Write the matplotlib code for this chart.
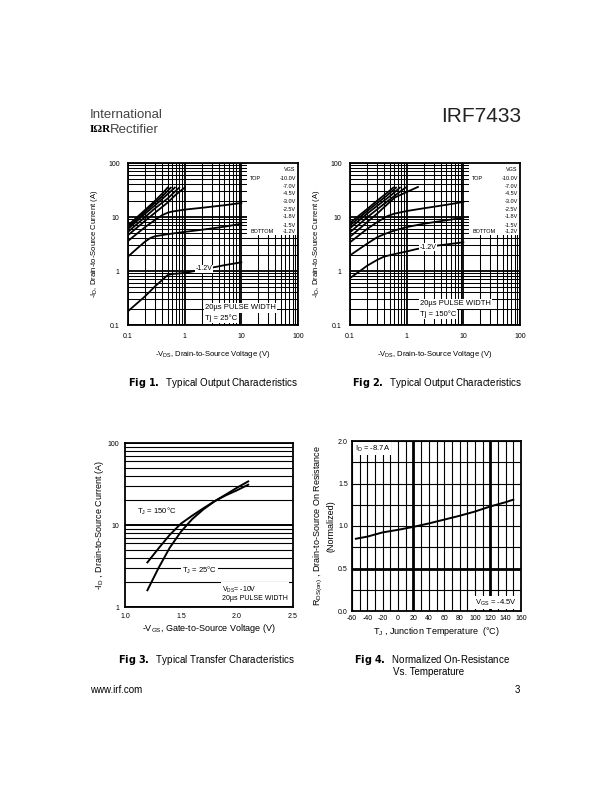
import numpy as np
import matplotlib
matplotlib.use('Agg')
import matplotlib.pyplot as plt
from matplotlib.patches import Rectangle

plt.rcParams['font.family'] = ['Liberation Sans', 'DejaVu Sans']
plt.rcParams['mathtext.default'] = 'regular'
plt.rcParams['axes.unicode_minus'] = False

# ---- Fig 1 / Fig 2 : output characteristics (VDS, ID) per VGS ----
vgs_labels = ['-10.0V', '-7.0V', '-4.5V', '-3.0V', '-2.5V', '-1.8V', '-1.5V', '-1.2V']

f1_vds = [
    [0.1, 0.2, 0.3, 0.4, 0.5],
    [0.1, 0.2, 0.3, 0.4, 0.57],
    [0.1, 0.2, 0.3, 0.45, 0.67],
    [0.1, 0.2, 0.3, 0.5, 0.8],
    [0.1, 0.2, 0.3, 0.5, 0.7, 1.0],
    [0.1, 0.2, 0.3, 0.4, 0.5, 0.6, 1.0, 2.0, 5.0, 10.0],
    [0.1, 0.15, 0.2, 0.25, 0.3, 0.5, 1.0, 2.0, 5.0, 10.0],
    [0.1, 0.2, 0.3, 0.4, 0.5, 0.6, 1.0, 1.5, 3.0, 5.0, 10.0],
]
f1_id = [
    [7.0, 13.5, 20.0, 27.0, 35.0],
    [6.5, 12.5, 18.5, 24.0, 35.0],
    [6.0, 11.5, 16.5, 24.0, 35.0],
    [5.3, 10.0, 14.5, 22.0, 35.0],
    [4.6, 8.5, 12.0, 18.5, 26.0, 35.0],
    [3.6, 6.5, 8.8, 10.8, 12.0, 12.6, 13.7, 14.8, 16.5, 18.2],
    [1.85, 2.7, 3.5, 4.1, 4.4, 4.8, 5.3, 5.8, 6.6, 7.5],
    [0.18, 0.34, 0.52, 0.68, 0.84, 0.88, 0.92, 1.0, 1.15, 1.28, 1.45],
]

f2_vds = [
    [0.1, 0.2, 0.3, 0.45, 0.58],
    [0.1, 0.2, 0.3, 0.45, 0.65],
    [0.1, 0.2, 0.3, 0.5, 0.76],
    [0.1, 0.2, 0.3, 0.5, 0.7, 0.95],
    [0.1, 0.2, 0.3, 0.45, 0.62, 1.0, 1.58],
    [0.1, 0.2, 0.3, 0.45, 0.6, 1.0, 2.0, 5.0, 10.0],
    [0.1, 0.2, 0.3, 0.4, 0.6, 1.0, 2.0, 5.0, 10.0],
    [0.1, 0.15, 0.2, 0.3, 0.4, 0.6, 1.0, 1.5, 3.0, 10.0],
]
f2_id = [
    [7.8, 14.0, 20.0, 28.0, 35.0],
    [7.0, 12.8, 18.0, 25.0, 35.0],
    [6.2, 11.5, 16.0, 24.0, 35.0],
    [5.2, 9.8, 13.8, 21.0, 27.5, 35.0],
    [4.3, 8.0, 11.5, 17.0, 23.0, 29.0, 36.0],
    [3.4, 6.0, 8.0, 10.3, 11.5, 12.9, 14.5, 16.8, 19.0],
    [1.95, 3.2, 4.2, 4.8, 5.6, 6.5, 7.5, 8.7, 9.7],
    [0.74, 1.0, 1.25, 1.6, 1.85, 2.05, 2.3, 2.55, 2.9, 3.4],
]

# ---- Fig 3 : transfer characteristics ----
vgs_150 = [1.2, 1.3, 1.4, 1.5, 1.6, 1.7, 1.8, 1.9, 2.0, 2.1]
id_150 = [3.5, 5.2, 7.6, 10.4, 13.0, 16.0, 19.5, 23.0, 26.5, 31.0]
vgs_25 = [1.2, 1.3, 1.4, 1.5, 1.6, 1.7, 1.8, 1.9, 2.0, 2.1]
id_25 = [1.6, 3.0, 5.3, 8.3, 11.8, 15.5, 19.5, 23.5, 28.5, 34.0]

# ---- Fig 4 : normalized on-resistance ----
tj = [-55, -40, -20, 0, 20, 40, 60, 80, 100, 120, 140, 150]
rds_norm = [0.85, 0.875, 0.925, 0.955, 0.99, 1.03, 1.075, 1.12, 1.17, 1.23, 1.28, 1.31]

W, H = 612, 792
fig = plt.figure(figsize=(6.12, 7.92), dpi=100)


def px_axes(l, t, r, b):
    return fig.add_axes([l / W, 1 - b / H, (r - l) / W, (b - t) / H])


def ftext(x, y, s, **kw):
    fig.text(x / W, 1 - y / H, s, **kw)


def output_chart(ax, vds, ids, tj_text, lbl_xy):
    ax.set_xscale('log')
    ax.set_yscale('log')
    ax.set_xlim(0.1, 100)
    ax.set_ylim(0.1, 100)
    ax.grid(which='major', color='k', lw=1.3)
    ax.grid(which='minor', color='k', lw=0.75)
    ax.set_axisbelow(True)
    ax.set_xticks([0.1, 1, 10, 100])
    ax.set_xticklabels(['0.1', '1', '10', '100'])
    ax.set_yticks([0.1, 1, 10, 100])
    ax.set_yticklabels(['0.1', '1', '10', '100'])
    ax.tick_params(which='both', length=0, labelsize=5, pad=6)
    for s in ax.spines.values():
        s.set_linewidth(1.3)
    for x, y in zip(vds, ids):
        ax.plot(x, y, color='k', lw=1.3, zorder=3)
    # legend box
    ax.add_patch(Rectangle((0.70, 0.555), 0.30, 0.445, transform=ax.transAxes,
                           facecolor='white', edgecolor='none', zorder=2))
    ax.text(0.988, 0.957, 'VGS', transform=ax.transAxes, ha='right', va='center',
            fontsize=4, zorder=4)
    ys = [0.906, 0.858, 0.813, 0.761, 0.714, 0.669, 0.617, 0.576]
    for lab, y in zip(vgs_labels, ys):
        ax.text(0.988, y, lab, transform=ax.transAxes, ha='right', va='center',
                fontsize=4, zorder=4)
    ax.text(0.72, ys[0], 'TOP', transform=ax.transAxes, ha='left', va='center',
            fontsize=4, zorder=4)
    ax.text(0.72, ys[-1], 'BOTTOM', transform=ax.transAxes, ha='left', va='center',
            fontsize=4, zorder=4)
    ax.text(lbl_xy[0], lbl_xy[1], '-1.2V', ha='center', va='center', fontsize=5,
            zorder=4, bbox=dict(facecolor='white', edgecolor='none', pad=0.5))
    ax.text(tj_text[0], tj_text[1], '20µs PULSE WIDTH', transform=ax.transAxes,
            ha='left', va='center', fontsize=5.5, zorder=4,
            bbox=dict(facecolor='white', edgecolor='none', pad=0.8))
    ax.text(tj_text[0], tj_text[1] - 0.062, tj_text[2], transform=ax.transAxes,
            ha='left', va='center', fontsize=5.5, zorder=4,
            bbox=dict(facecolor='white', edgecolor='none', pad=0.8))
    ax.set_xlabel('-V$_{DS}$, Drain-to-Source Voltage (V)', fontsize=5.5, labelpad=6)
    ax.set_ylabel('-I$_D$, Drain-to-Source Current (A)', fontsize=5.5, labelpad=6)


ax1 = px_axes(128, 163, 298, 325)
output_chart(ax1, f1_vds, f1_id, (0.455, 0.105, 'Tj = 25°C'), (2.2, 1.1))
ax2 = px_axes(350, 163, 520, 325)
output_chart(ax2, f2_vds, f2_id, (0.41, 0.13, 'Tj = 150°C'), (2.4, 2.75))

# Fig 3
ax3 = px_axes(125, 443, 293, 607)
ax3.set_yscale('log')
ax3.set_xlim(1.0, 2.5)
ax3.set_ylim(1, 100)
ax3.grid(axis='y', which='major', color='k', lw=1.4)
ax3.grid(axis='y', which='minor', color='k', lw=0.8)
ax3.set_axisbelow(True)
ax3.plot(vgs_150, id_150, color='k', lw=1.4, zorder=3)
ax3.plot(vgs_25, id_25, color='k', lw=1.4, zorder=3)
ax3.set_xticks([1.0, 1.5, 2.0, 2.5])
ax3.set_xticklabels(['1.0', '1.5', '2.0', '2.5'])
ax3.set_yticks([1, 10, 100])
ax3.set_yticklabels(['1', '10', '100'])
ax3.tick_params(which='both', length=0, labelsize=5, pad=4)
for s in ax3.spines.values():
    s.set_linewidth(1.3)
ax3.text(0.07, 0.58, 'T$_J$ = 150°C', transform=ax3.transAxes, ha='left',
         va='center', fontsize=5.5, zorder=4,
         bbox=dict(facecolor='white', edgecolor='none', pad=0.8))
ax3.text(0.34, 0.224, 'T$_J$ = 25°C', transform=ax3.transAxes, ha='left',
         va='center', fontsize=5.5, zorder=4,
         bbox=dict(facecolor='white', edgecolor='none', pad=0.8))
ax3.text(0.58, 0.085, 'V$_{DS}$= -10V\n20µs PULSE WIDTH', transform=ax3.transAxes,
         ha='left', va='center', fontsize=5, linespacing=1.0, zorder=4,
         bbox=dict(facecolor='white', edgecolor='none', pad=0.8))
ax3.set_xlabel('-V$_{GS}$, Gate-to-Source Voltage (V)', fontsize=6.5, labelpad=2)
ax3.set_ylabel('-I$_D$ , Drain-to-Source Current (A)', fontsize=6.5, labelpad=1)

# Fig 4
ax4 = px_axes(352, 441, 521, 611)
ax4.set_xlim(-60, 160)
ax4.set_ylim(0.0, 2.0)
ax4.set_xticks(np.arange(-60, 161, 20))
ax4.set_xticks(np.arange(-60, 161, 10), minor=True)
ax4.set_yticks(np.arange(0, 2.01, 0.5))
ax4.set_yticks(np.arange(0, 2.01, 0.25), minor=True)
ax4.set_yticklabels(['0.0', '0.5', '1.0', '1.5', '2.0'])
ax4.grid(which='both', color='k', lw=0.8)
for xv in (20, 120):
    ax4.axvline(xv, color='k', lw=2.0, zorder=1)
ax4.axhline(0.5, color='k', lw=2.0, zorder=1)
ax4.set_axisbelow(True)
ax4.plot(tj, rds_norm, color='k', lw=1.4, zorder=3)
ax4.tick_params(which='both', length=0, labelsize=5, pad=3)
for s in ax4.spines.values():
    s.set_linewidth(1.3)
ax4.text(0.015, 0.985, 'I$_D$ = -8.7A', transform=ax4.transAxes, ha='left',
         va='top', fontsize=5.5, zorder=4,
         bbox=dict(facecolor='white', edgecolor='none', pad=0.8))
ax4.text(0.975, 0.05, 'V$_{GS}$ = -4.5V', transform=ax4.transAxes, ha='right',
         va='center', fontsize=5.5, zorder=4,
         bbox=dict(facecolor='white', edgecolor='none', pad=0.8))
ax4.set_xlabel('T$_J$ , Junction Temperature  (°C)', fontsize=6.5, labelpad=2)
ax4.set_ylabel('R$_{DS(on)}$ , Drain-to-Source On Resistance\n(Normalized)',
               fontsize=6.5, labelpad=2, linespacing=1.1)

# page furniture
ftext(90, 115, 'International', fontsize=9.5, color='#444444', va='center')
ftext(90, 130, 'IΩR', fontsize=8, fontweight='bold', family='Liberation Serif',
      va='center')
ftext(110, 130, 'Rectifier', fontsize=9.5, color='#444444', va='center')
ftext(521, 117, 'IRF7433', fontsize=15, ha='right', va='center', color='#222222')

ftext(128, 383, r'$\bf{Fig\ 1.}$  Typical Output Characteristics', fontsize=7, va='center')
ftext(352, 383, r'$\bf{Fig\ 2.}$  Typical Output Characteristics', fontsize=7, va='center')
ftext(118, 660, r'$\bf{Fig\ 3.}$  Typical Transfer Characteristics', fontsize=7, va='center')
ftext(354, 660, r'$\bf{Fig\ 4.}$  Normalized On-Resistance', fontsize=7, va='center')
ftext(429, 672, 'Vs. Temperature', fontsize=7, ha='center', va='center')

ftext(90, 690, 'www.irf.com', fontsize=7, va='center')
ftext(520, 690, '3', fontsize=7, ha='right', va='center')

fig.savefig('out.png', dpi=100)
